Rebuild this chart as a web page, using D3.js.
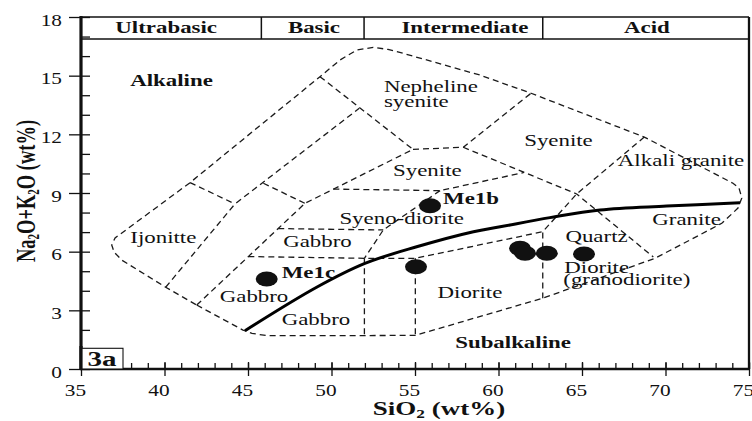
<!DOCTYPE html>
<html><head><meta charset="utf-8">
<script src="https://cdn.jsdelivr.net/npm/d3@7/dist/d3.min.js"></script>
<style>
html,body{margin:0;padding:0;background:#fff;}
svg{display:block;}
text{font-family:"Liberation Serif","Times New Roman",serif;fill:#111;}
</style></head><body>
<svg id="chart" width="752" height="421"></svg>
<script>
// ---------------- data ----------------
const xTickValues = [35, 40, 45, 50, 55, 60, 65, 70, 75];
const yTickValues = [0, 3, 6, 9, 12, 15, 18];
const xMinorTicks = d3.range(35, 76, 1);
const yMinorTicks = d3.range(0, 19, 1);

const classBounds = [35, 45.8, 51.95, 62.65, 75];
const classNames = ["Ultrabasic", "Basic", "Intermediate", "Acid"];
const classLabelX = [40.1, 48.95, 57.99, 68.89];
const classBandBottom = 16.87;

// outer (dashed) envelope of the plutonic TAS fields  [SiO2, Na2O+K2O]
const outerBoundary = [
  [41.93, 3.27], [44.70, 1.99], [45.24, 1.82], [46.12, 1.71], [51.97, 1.71], [55.02, 1.72],
  [62.65, 3.62], [69.37, 5.66], [73.37, 7.45], [74.34, 8.23], [74.57, 8.74], [74.40, 9.26],
  [74.04, 9.50], [68.73, 11.86], [61.95, 14.10], [58.89, 15.03], [54.30, 16.14], [53.38, 16.34],
  [52.50, 16.45], [51.51, 16.31], [50.51, 15.80], [49.31, 14.95], [41.53, 9.53], [37.04, 6.70],
  [36.84, 6.34], [36.98, 5.98], [37.44, 5.57], [40.07, 4.18], [41.93, 3.27]
];

// internal field boundaries (dashed)
const fieldBoundaries = [
  [[41.53, 9.53], [44.22, 8.44]],
  [[40.07, 4.18], [44.22, 8.44], [51.66, 13.33]],
  [[45.92, 9.50], [48.41, 8.47]],
  [[41.93, 3.27], [48.41, 8.47], [54.88, 11.23]],
  [[49.31, 14.95], [54.88, 11.23]],
  [[54.88, 11.23], [57.89, 11.34], [61.95, 14.10]],
  [[57.89, 11.34], [64.68, 8.95], [69.27, 5.73]],
  [[68.73, 11.86], [64.68, 8.95], [62.65, 7.02], [62.65, 3.62]],
  [[50.11, 9.20], [56.50, 9.12], [61.53, 10.05]],
  [[56.50, 9.12], [53.10, 7.11], [51.97, 5.66]],
  [[46.81, 7.18], [53.10, 7.11]],
  [[45.02, 5.75], [51.97, 5.66], [55.02, 5.66], [62.65, 7.02]],
  [[51.97, 5.66], [51.97, 1.71]],
  [[55.02, 5.66], [55.02, 1.72]]
];

// alkaline / subalkaline dividing line (solid)
const alkalineDivide = [
  [44.82, 1.96], [49.11, 4.18], [52.0, 5.40], [55.1, 6.25], [58.5, 7.02], [60.1, 7.27],
  [63.08, 7.74], [66.08, 8.13], [70.07, 8.33], [74.46, 8.50]
];

// samples
const sampleNames = ["Me1c", "Me1b", "", "", "", "", ""];
const sampleSiO2 = [46.12, 55.90, 55.06, 61.29, 61.59, 62.89, 65.12];
const sampleAlk  = [4.60, 8.35, 5.23, 6.17, 5.92, 5.92, 5.88];
const sampleLabelX = [47.02, 56.68];
const sampleLabelY = [4.64, 8.44];

// field names (text, SiO2, alkali, anchor, weight)
const fieldLabels = [
  ["Alkaline", 40.42, 14.49, "middle", "bold"],
  ["Subalkaline", 60.87, 1.06, "middle", "bold"],
  ["Nepheline", 53.14, 14.18, "start", "normal"],
  ["syenite", 53.14, 13.41, "start", "normal"],
  ["Syenite", 63.59, 11.42, "middle", "normal"],
  ["Alkali granite", 70.93, 10.40, "middle", "normal"],
  ["Syenite", 55.74, 9.88, "middle", "normal"],
  ["Syeno-diorite", 54.20, 7.40, "middle", "normal"],
  ["Gabbro", 49.16, 6.25, "middle", "normal"],
  ["Ijonitte", 39.93, 6.43, "middle", "normal"],
  ["Gabbro", 45.36, 3.44, "middle", "normal"],
  ["Gabbro", 49.07, 2.25, "middle", "normal"],
  ["Diorite", 58.29, 3.62, "middle", "normal"],
  ["Quartz", 65.87, 6.48, "middle", "normal"],
  ["Diorite", 63.94, 4.89, "start", "normal"],
  ["(granodiorite)", 63.88, 4.30, "start", "normal"],
  ["Granite", 71.26, 7.36, "middle", "normal"]
];

// ---------------- drawing ----------------
const SX = 1.43;   // horizontal stretch of the original figure's lettering
const svg = d3.select("#chart");
const x = d3.scaleLinear().domain([35, 75]).range([81, 749]);
const y = d3.scaleLinear().domain([0, 18]).range([369, 17]);
const line = d3.line().x(d => x(d[0])).y(d => y(d[1]));

const dashStyle = g => g.attr("fill", "none").attr("stroke", "#1a1a1a")
  .attr("stroke-width", 1.3).attr("stroke-dasharray", "6,4");

svg.append("path").datum(outerBoundary).attr("d", line).call(dashStyle);
svg.append("g").selectAll("path").data(fieldBoundaries).join("path")
  .attr("d", line).call(dashStyle);

svg.append("path").datum(alkalineDivide)
  .attr("d", d3.line().x(d => x(d[0])).y(d => y(d[1])).curve(d3.curveCatmullRom))
  .attr("fill", "none").attr("stroke", "#000").attr("stroke-width", 3);

// field labels
function addText(px, py, txt, anchor, weight, size, sx) {
  return svg.append("text")
    .attr("transform", `translate(${px},${py}) scale(${sx},1)`)
    .attr("text-anchor", anchor).attr("font-weight", weight)
    .attr("font-size", size).text(txt);
}
fieldLabels.forEach(f => addText(x(f[1]), y(f[2]), f[0], f[3], f[4], 16, SX));

// samples
svg.append("g").selectAll("ellipse").data(sampleSiO2).join("ellipse")
  .attr("cx", (d, i) => x(d)).attr("cy", (d, i) => y(sampleAlk[i]))
  .attr("rx", 11).attr("ry", 7.5).attr("fill", "#111");
sampleLabelX.forEach((v, i) =>
  addText(x(v), y(sampleLabelY[i]), sampleNames[i], "start", "bold", 16, SX));

// axes
const tickStyle = g => {
  g.select(".domain").remove();
  g.selectAll("line").attr("stroke", "#111").attr("stroke-width", 1.3);
};
svg.append("g").attr("transform", `translate(0,${y(0)})`)
  .call(d3.axisBottom(x).tickValues(xMinorTicks).tickSize(-6).tickFormat(""))
  .call(tickStyle);
svg.append("g").attr("transform", `translate(0,${y(0)})`)
  .call(d3.axisBottom(x).tickValues(xTickValues).tickSize(-7).tickFormat(""))
  .call(tickStyle);
const gx = svg.append("g").attr("transform", `translate(0,${y(0)})`)
  .call(d3.axisBottom(x).tickValues(xTickValues).tickSize(7).tickFormat(d3.format("d")))
  .call(tickStyle);
gx.selectAll("text").attr("y", 0).attr("dy", 0)
  .attr("transform", `translate(-6,27) scale(1.33,1)`)
  .attr("font-size", 16).attr("font-family", '"Liberation Serif","Times New Roman",serif')
  .attr("fill", "#111");

svg.append("g").attr("transform", `translate(${x(35)},0)`)
  .call(d3.axisLeft(y).tickValues(yMinorTicks).tickSize(-9).tickFormat(""))
  .call(tickStyle);
const gy = svg.append("g").attr("transform", `translate(${x(35)},0)`)
  .call(d3.axisLeft(y).tickValues(yTickValues).tickSize(12).tickFormat(d3.format("d")))
  .call(tickStyle);
gy.selectAll("text").attr("x", 0).attr("y", 0).attr("dy", "0.35em")
  .attr("transform", `translate(-19,2.5) scale(1.33,1)`)
  .attr("font-size", 16).attr("font-family", '"Liberation Serif","Times New Roman",serif')
  .attr("fill", "#111");

// frame
svg.append("line").attr("x1", x(35)).attr("x2", x(75)).attr("y1", y(18)).attr("y2", y(18))
  .attr("stroke", "#111").attr("stroke-width", 1.6);
svg.append("line").attr("x1", x(75)).attr("x2", x(75)).attr("y1", y(18)).attr("y2", y(0))
  .attr("stroke", "#111").attr("stroke-width", 2.3);
svg.append("line").attr("x1", x(35) - 1).attr("x2", x(75) + 1).attr("y1", y(0)).attr("y2", y(0))
  .attr("stroke", "#111").attr("stroke-width", 2.6);
svg.append("line").attr("x1", x(35)).attr("x2", x(35)).attr("y1", y(18) - 1).attr("y2", y(0) + 1)
  .attr("stroke", "#111").attr("stroke-width", 3.2);

// rock-class header band
svg.append("line").attr("x1", x(35)).attr("x2", x(75))
  .attr("y1", y(classBandBottom)).attr("y2", y(classBandBottom))
  .attr("stroke", "#111").attr("stroke-width", 1.5);
svg.append("g").selectAll("line").data(classBounds.slice(1, -1)).join("line")
  .attr("x1", d => x(d)).attr("x2", d => x(d))
  .attr("y1", y(18)).attr("y2", y(classBandBottom))
  .attr("stroke", "#111").attr("stroke-width", 1.5);
classNames.forEach((n, i) => addText(x(classLabelX[i]), 33.3, n, "middle", "bold", 16, SX));

// panel tag
svg.append("rect").attr("x", x(35)).attr("y", 348.3).attr("width", 42).attr("height", y(0) - 348.3)
  .attr("fill", "#fff").attr("stroke", "#111").attr("stroke-width", 1.1);
svg.append("line").attr("x1", x(35)).attr("x2", x(35)).attr("y1", 346).attr("y2", y(0) + 1)
  .attr("stroke", "#111").attr("stroke-width", 3.2);
addText(x(35) + 21, 366, "3a", "middle", "bold", 20, 1.45);

// axis titles
const xt = svg.append("text")
  .attr("transform", `translate(439,415) scale(1.5,1)`)
  .attr("text-anchor", "middle").attr("font-weight", "bold").attr("font-size", 18);
xt.append("tspan").text("SiO");
xt.append("tspan").attr("font-size", 11.5).attr("dy", 3).text("2");
xt.append("tspan").attr("dy", -3).text(" (wt%)");

const yt = svg.append("text")
  .attr("transform", `translate(35,191) scale(${SX},1) rotate(-90)`)
  .attr("text-anchor", "middle").attr("font-weight", "bold").attr("font-size", 18.5);
yt.append("tspan").text("Na");
yt.append("tspan").attr("font-size", 11).attr("dy", 3).text("2");
yt.append("tspan").attr("dy", -3).text("O+K");
yt.append("tspan").attr("font-size", 11).attr("dy", 3).text("2");
yt.append("tspan").attr("dy", -3).text("O (wt%)");
</script>
</body></html>
